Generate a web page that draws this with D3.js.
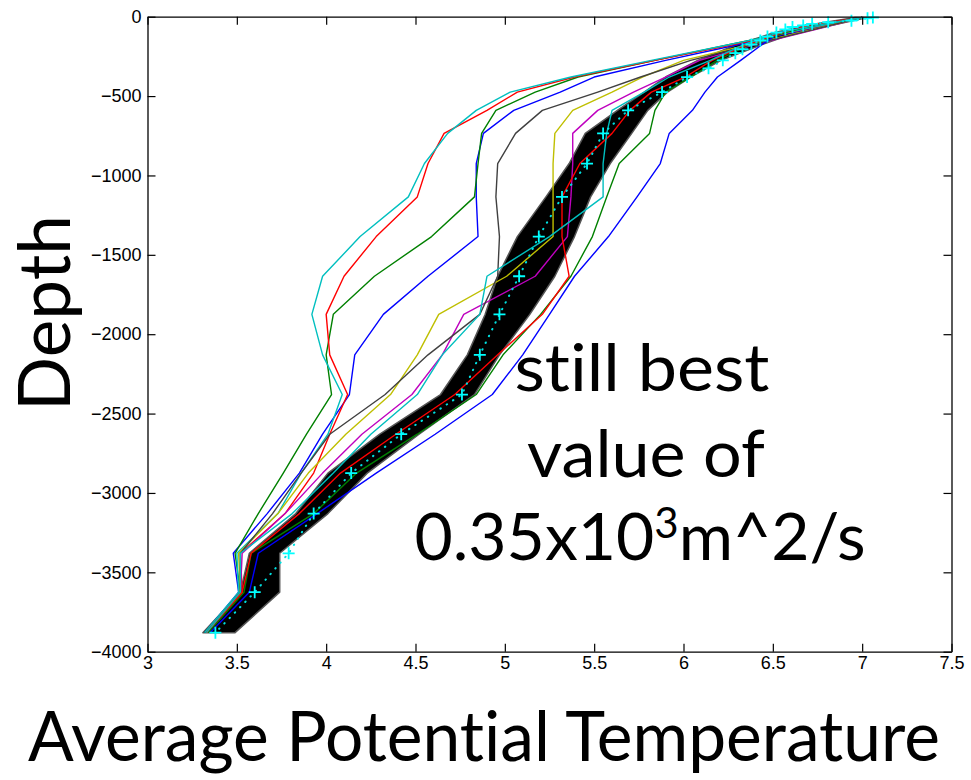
<!DOCTYPE html>
<meta charset="utf-8">
<script src="https://d3js.org/d3.v7.min.js"></script>
<style>
  body { margin: 0; background: #fff; }
  .tick text { font-family: "Liberation Sans", Arial, sans-serif; font-size: 18px; fill: #000; }
  .big { font-family: Lato, "Open Sans", sans-serif; fill: #000; font-variant-ligatures: none; font-feature-settings: "liga" 0, "clig" 0; }
</style>
<div id="chart"></div>
<script>

// model levels (m, positive down)
const depths = [5, 50, 100, 175, 275, 380, 475, 590, 735, 925, 1135, 1385, 1635, 1875, 2130, 2380, 2630, 2875, 3130, 3380, 3625, 3880];

// observed profile (cyan + with dotted line)
const obsDepths = [5, 10, 25, 35, 45, 55, 65, 80, 100, 125, 150, 175, 205, 230, 275, 325, 380, 475, 590, 735, 925, 1135, 1385, 1635, 1875, 2130, 2380, 2630, 2875, 3130, 3380, 3625, 3880];
const obsTemp = [7.06, 7.03, 6.94, 6.81, 6.72, 6.67, 6.61, 6.57, 6.52, 6.47, 6.43, 6.38, 6.33, 6.29, 6.22, 6.14, 6.02, 5.88, 5.69, 5.55, 5.46, 5.32, 5.19, 5.08, 4.97, 4.86, 4.76, 4.42, 4.14, 3.93, 3.79, 3.60, 3.38];

// spread of the black ensemble runs
const ensLow  = [6.96, 6.71, 6.51, 6.30, 6.08, 5.90, 5.78, 5.63, 5.45, 5.36, 5.23, 5.07, 4.96, 4.89, 4.79, 4.64, 4.30, 4.01, 3.83, 3.57, 3.52, 3.31];
const ensHigh = [7.03, 6.85, 6.63, 6.44, 6.21, 6.04, 5.91, 5.80, 5.71, 5.59, 5.48, 5.39, 5.28, 5.14, 4.97, 4.83, 4.52, 4.23, 4.01, 3.74, 3.74, 3.49];

// coloured runs
const blue1   = [7.00, 6.82, 6.61, 6.31, 5.90, 5.50, 5.31, 5.05, 4.88, 4.84, 4.84, 4.85, 4.57, 4.32, 4.16, 4.13, 3.98, 3.85, 3.67, 3.48, 3.51, 3.32];
const green1  = [7.00, 6.80, 6.58, 6.26, 5.84, 5.41, 5.17, 4.95, 4.87, 4.85, 4.83, 4.59, 4.27, 4.04, 4.00, 4.03, 3.89, 3.76, 3.62, 3.49, 3.52, 3.32];
const red1    = [7.00, 6.81, 6.59, 6.28, 5.84, 5.39, 5.07, 4.90, 4.66, 4.57, 4.51, 4.28, 4.10, 4.00, 4.02, 4.12, 4.02, 3.93, 3.77, 3.52, 3.53, 3.33];
const cyan1   = [7.00, 6.80, 6.58, 6.26, 5.82, 5.37, 5.03, 4.84, 4.68, 4.55, 4.46, 4.19, 3.98, 3.92, 3.98, 4.09, 4.01, 3.86, 3.73, 3.50, 3.51, 3.32];
const magenta = [7.00, 6.85, 6.67, 6.40, 6.09, 5.90, 5.72, 5.52, 5.38, 5.38, 5.37, 5.35, 5.17, 4.77, 4.65, 4.48, 4.20, 3.98, 3.77, 3.53, 3.52, 3.33];
const yellow  = [7.00, 6.84, 6.65, 6.37, 6.00, 5.77, 5.60, 5.38, 5.28, 5.27, 5.27, 5.27, 5.01, 4.63, 4.51, 4.36, 4.11, 3.90, 3.73, 3.51, 3.52, 3.33];
const grey    = [7.00, 6.84, 6.66, 6.39, 6.04, 5.76, 5.52, 5.21, 5.06, 4.96, 4.95, 4.97, 4.96, 4.86, 4.57, 4.33, 4.02, 3.86, 3.70, 3.52, 3.52, 3.33];
const blue2   = [7.00, 6.74, 6.54, 6.44, 6.32, 6.19, 6.12, 6.05, 5.92, 5.87, 5.74, 5.58, 5.39, 5.25, 5.10, 4.93, 4.61, 4.28, 3.95, 3.62, 3.57, 3.35];
const green2  = [7.00, 6.74, 6.57, 6.37, 6.19, 6.04, 5.90, 5.84, 5.81, 5.64, 5.57, 5.49, 5.37, 5.20, 4.99, 4.84, 4.51, 4.17, 3.93, 3.58, 3.54, 3.34];
const red2    = [7.00, 6.72, 6.55, 6.36, 6.16, 6.01, 5.82, 5.70, 5.60, 5.42, 5.32, 5.32, 5.36, 5.21, 4.96, 4.72, 4.39, 4.08, 3.85, 3.58, 3.53, 3.33];
const cyan2   = [7.00, 6.77, 6.53, 6.34, 6.15, 5.92, 5.78, 5.60, 5.57, 5.55, 5.55, 5.25, 4.90, 4.86, 4.65, 4.51, 4.25, 4.04, 3.81, 3.52, 3.52, 3.33];

const runs = [blue1, green1, red1, cyan1, magenta, yellow, grey, blue2, green2, red2, cyan2];
const runColors = ["#0000ff", "#008000", "#ff0000", "#00bfbf", "#bf00bf", "#bfbf00", "#404040",
                   "#0000ff", "#008000", "#ff0000", "#00bfbf"];

const xTicks = [3, 3.5, 4, 4.5, 5, 5.5, 6, 6.5, 7, 7.5];
const yTicks = [0, -500, -1000, -1500, -2000, -2500, -3000, -3500, -4000];

var margin = {top: 16.7, right: 19.5, bottom: 128.3, left: 147.5},
    width = 971 - margin.left - margin.right,
    height = 780 - margin.top - margin.bottom;

var root = d3.select("#chart")
  .append("svg")
    .attr("width", 971)
    .attr("height", 780)
    .style("background", "#fff");

var svg = root.append("g")
    .attr("transform", "translate(" + margin.left + "," + margin.top + ")");

var x = d3.scaleLinear().domain([3, 7.5]).range([0, width]);
var y = d3.scaleLinear().domain([-4000, 0]).range([height, 0]);

// ensemble band
var band = d3.area()
  .x0(function(d, i) { return x(ensLow[i]); })
  .x1(function(d, i) { return x(ensHigh[i]); })
  .y(function(d) { return y(-d); });

svg.append("path")
  .datum(depths)
  .attr("d", band)
  .attr("fill", "#000")
  .attr("stroke", "#555")
  .attr("stroke-width", 1.5)
  .attr("stroke-linejoin", "round");

// coloured runs
runs.forEach(function(run, k) {
  var line = d3.line()
    .x(function(d, i) { return x(run[i]); })
    .y(function(d) { return y(-d); });
  svg.append("path")
    .datum(depths)
    .attr("d", line)
    .attr("fill", "none")
    .attr("stroke", runColors[k])
    .attr("stroke-width", 1.4)
    .attr("stroke-linejoin", "round");
});

// observations
var obsLine = d3.line()
  .x(function(d, i) { return x(obsTemp[i]); })
  .y(function(d) { return y(-d); });

svg.append("path")
  .datum(obsDepths)
  .attr("d", obsLine)
  .attr("fill", "none")
  .attr("stroke", "#00e0e0")
  .attr("stroke-width", 2)
  .attr("stroke-linecap", "round")
  .attr("stroke-dasharray", "0.5,7");

svg.selectAll(".obs")
  .data(obsDepths)
  .enter()
  .append("path")
    .attr("class", "obs")
    .attr("transform", function(d, i) { return "translate(" + x(obsTemp[i]) + "," + y(-d) + ")"; })
    .attr("d", "M-6,0H6M0,-6V6")
    .attr("stroke", "#00ffff")
    .attr("stroke-width", 1.8);

// axes (MATLAB style box with inward ticks)
function styleAxis(g) {
  g.attr("font-family", null).attr("font-size", null);
  g.select(".domain").attr("stroke", "#000").attr("stroke-width", 1.3);
  g.selectAll(".tick line").attr("stroke", "#000").attr("stroke-width", 1.2);
}

svg.append("g")
  .attr("transform", "translate(0," + height + ")")
  .call(d3.axisBottom(x).tickValues(xTicks).tickSizeInner(-8).tickSizeOuter(0).tickPadding(5)
    .tickFormat(function(d) { return String(d); }))
  .call(styleAxis);

svg.append("g")
  .call(d3.axisTop(x).tickValues(xTicks).tickSizeInner(-8).tickSizeOuter(0).tickFormat(""))
  .call(styleAxis);

svg.append("g")
  .call(d3.axisLeft(y).tickValues(yTicks).tickSizeInner(-8).tickSizeOuter(0).tickPadding(6)
    .tickFormat(function(d) { return d < 0 ? "\u2212" + Math.abs(d) : String(d); }))
  .call(styleAxis);

svg.append("g")
  .attr("transform", "translate(" + width + ",0)")
  .call(d3.axisRight(y).tickValues(yTicks).tickSizeInner(-8).tickSizeOuter(0).tickFormat(""))
  .call(styleAxis);

// axis titles
root.append("text")
  .attr("class", "big")
  .attr("transform", "translate(70,313) rotate(-90)")
  .attr("text-anchor", "middle")
  .attr("font-size", 72)
  .attr("textLength", 196)
  .attr("lengthAdjust", "spacingAndGlyphs")
  .text("Depth");

root.append("text")
  .attr("class", "big")
  .attr("x", 484)
  .attr("y", 761)
  .attr("text-anchor", "middle")
  .attr("font-size", 70)
  .attr("textLength", 912)
  .attr("lengthAdjust", "spacingAndGlyphs")
  .text("Average Potential Temperature");

// annotation
root.append("text")
  .attr("class", "big")
  .attr("x", 642).attr("y", 391)
  .attr("text-anchor", "middle")
  .attr("font-size", 66)
  .attr("textLength", 255)
  .attr("lengthAdjust", "spacingAndGlyphs")
  .text("still best");

root.append("text")
  .attr("class", "big")
  .attr("x", 646).attr("y", 477)
  .attr("text-anchor", "middle")
  .attr("font-size", 66)
  .attr("textLength", 238)
  .attr("lengthAdjust", "spacingAndGlyphs")
  .text("value of");

var t3 = root.append("text")
  .attr("class", "big")
  .attr("x", 640).attr("y", 560)
  .attr("text-anchor", "middle")
  .attr("font-size", 66);
t3.append("tspan").text("0.35x10");
t3.append("tspan").attr("font-size", 42).attr("dy", -22).text("3");
t3.append("tspan").attr("dy", 22).text("m^2/s");

</script>
